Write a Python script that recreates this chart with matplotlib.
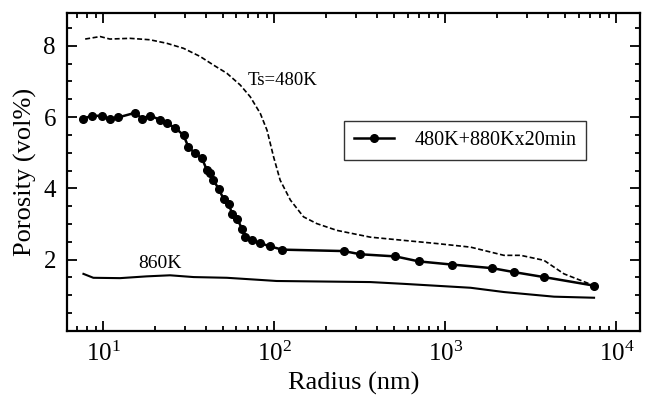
import numpy as np
import matplotlib
matplotlib.use("Agg")
import matplotlib.pyplot as plt
from matplotlib.ticker import MultipleLocator, LogLocator, NullFormatter

plt.rcParams['font.family'] = ['Liberation Serif', 'DejaVu Serif']
plt.rcParams['mathtext.fontset'] = 'custom'
plt.rcParams['mathtext.rm'] = 'Liberation Serif'

# Ts=480K (dashed)
r_480 = [7.82, 9.57, 10.9, 14.3, 18.7, 23.5, 29.4, 36.8, 44.0, 52.7, 63.1, 72.2,
         82.7, 90.5, 98.9, 108, 124, 148, 177, 232, 364, 570, 895, 1403,
         2198, 2754, 3767, 4934, 7396]
p_480 = [8.19, 8.26, 8.19, 8.21, 8.17, 8.07, 7.93, 7.70, 7.46, 7.23, 6.90, 6.57,
         6.10, 5.63, 4.88, 4.23, 3.67, 3.20, 3.01, 2.82, 2.63, 2.54, 2.45, 2.35,
         2.12, 2.12, 1.98, 1.60, 1.27]

# 480K+880Kx20min (line with dots)
r_ann = [7.57, 8.55, 9.79, 10.9, 12.2, 15.3, 16.8, 18.8, 21.5, 23.5, 26.3, 29.4,
         31.4, 34.4, 37.7, 40.3, 42.0, 44.0, 47.1, 50.4, 54.0, 56.5, 60.4, 64.6,
         67.6, 74.0, 82.7, 94.6, 111, 254, 318, 510, 699, 1097, 1880, 2512,
         3767, 7396]
p_ann = [5.96, 6.03, 6.04, 5.94, 5.99, 6.12, 5.96, 6.04, 5.92, 5.82, 5.70, 5.49,
         5.16, 4.98, 4.84, 4.51, 4.42, 4.23, 3.99, 3.71, 3.57, 3.29, 3.15, 2.87,
         2.63, 2.54, 2.46, 2.37, 2.28, 2.24, 2.15, 2.09, 1.95, 1.86, 1.76, 1.65,
         1.51, 1.27]

# 860K (solid)
r_860 = [7.64, 8.73, 12.5, 17.9, 24.5, 33.7, 52.7, 82.7, 103, 364, 570, 1403,
         2198, 4315, 7396]
p_860 = [1.60, 1.49, 1.48, 1.53, 1.56, 1.51, 1.49, 1.43, 1.40, 1.37, 1.32, 1.21,
         1.09, 0.96, 0.93]

fig, ax = plt.subplots(figsize=(6.45, 4.09), dpi=100)
fig.subplots_adjust(left=0.104, right=0.992, bottom=0.191, top=0.969)

ax.plot(r_480, p_480, color='black', lw=1.2, linestyle=(0, (3, 1.5)))
ax.plot(r_ann, p_ann, color='black', lw=1.8, marker='o', markersize=5.5,
        label='480K+880Kx20min')
ax.plot(r_860, p_860, color='black', lw=1.5)

ax.text(69.3, 7.04, 'Ts=480K', fontsize=13.5, va='center', ha='left')
ax.text(16.0, 1.89, '860K', fontsize=14, va='center', ha='left')

ax.set_xscale('log')
ax.set_xlim(6.13, 13700)
ax.set_ylim(0, 8.93)
ax.set_yticks([2, 4, 6, 8])
ax.yaxis.set_minor_locator(MultipleLocator(0.5))
ax.xaxis.set_minor_locator(LogLocator(base=10, subs=np.arange(2, 10)))
ax.xaxis.set_minor_formatter(NullFormatter())

ax.tick_params(which='both', direction='in', top=True, right=True, width=1.3)
ax.tick_params(which='major', length=7, labelsize=18, pad=8)
ax.tick_params(which='minor', length=3.5)
for s in ax.spines.values():
    s.set_linewidth(1.6)

ax.set_xlabel('Radius (nm)', fontsize=19, labelpad=4)
ax.set_ylabel('Porosity (vol%)', fontsize=19, labelpad=5)

leg = ax.legend(loc='center', bbox_to_anchor=(0.695, 0.599), fontsize=14.5,
                frameon=True, fancybox=False, edgecolor='black',
                handlelength=2.0, handletextpad=1.0, borderpad=0.5)
leg.get_frame().set_linewidth(1.0)

fig.savefig('out.png', dpi=100)
